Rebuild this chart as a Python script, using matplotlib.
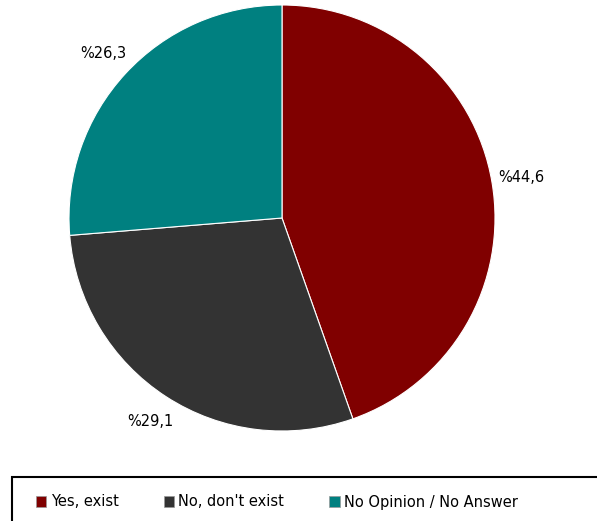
import matplotlib.pyplot as plt
from matplotlib.patches import Rectangle, Patch

categories = ["Yes, exist", "No, don't exist", "No Opinion / No Answer"]
values = [44.6, 29.1, 26.3]
labels = ["%44,6", "%29,1", "%26,3"]
colors = ["#800000", "#333333", "#008080"]

W, H = 597, 521
fig = plt.figure(figsize=(W / 100, H / 100), dpi=100)

# pie: center (282, 218), radius 213 px
cx, cy, r = 282, 218, 213
ax = fig.add_axes([(cx - r) / W, (H - cy - r) / H, 2 * r / W, 2 * r / H])
ax.pie(values, labels=labels, colors=colors, startangle=90, counterclock=False,
       labeldistance=1.14, wedgeprops=dict(edgecolor="white", linewidth=0.8),
       textprops=dict(fontsize=10.5, color="black", ha="center", va="center"))
ax.set_xlim(-1, 1)
ax.set_ylim(-1, 1)
ax.set_aspect("equal")
ax.axis("off")

# legend box that runs off the bottom/right of the image
fig.patches.append(Rectangle((12 / W, -0.05), 1.0, (H - 477) / H + 0.05,
                             transform=fig.transFigure, fill=False,
                             edgecolor="black", linewidth=1.5))
handles = [Patch(facecolor=c, edgecolor="#999999", linewidth=0.5) for c in colors]
fig.legend(handles, categories, loc="center left", bbox_to_anchor=(23 / W, 1 - 502 / H),
           ncol=3, frameon=False, fontsize=10.5, handlelength=0.7, handleheight=0.7,
           handletextpad=0.3, columnspacing=3.1)

fig.savefig("out.png", dpi=100)
